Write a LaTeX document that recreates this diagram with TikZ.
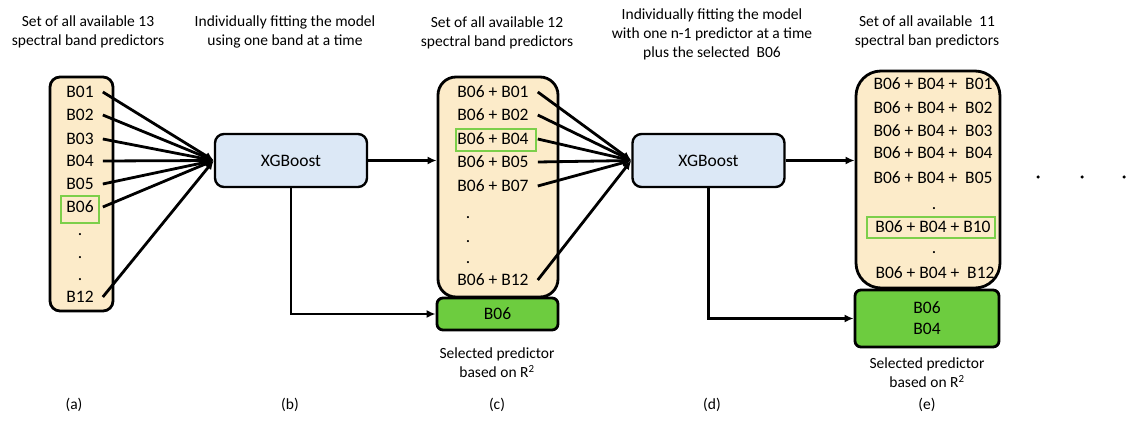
\documentclass[tikz,border=0pt]{standalone}
\usepackage{fontspec}
\setmainfont{Carlito}
\usetikzlibrary{arrows.meta}

\definecolor{setfill}{HTML}{FCEBC9}
\definecolor{xgbfill}{HTML}{DCE8F6}
\definecolor{selgreen}{HTML}{6DCC3F}
\definecolor{pickgreen}{HTML}{7CCF4A}

\begin{document}
\begin{tikzpicture}[x=1pt,y=-1pt]

\tikzset{line/.style={draw,line width=2.8pt}}
\tikzset{arrow/.style={line,-{Latex[length=9pt,width=8pt]}}}
\tikzset{bandset/.style={draw,line width=2.8pt,fill=setfill,rounded corners=#1}}
\tikzset{model/.style={draw,line width=2.4pt,fill=xgbfill,rounded corners=9pt,minimum width=152pt,minimum height=53pt,font=\fontsize{17.5}{20}\selectfont}}
\tikzset{selbox/.style={draw,line width=2.8pt,fill=selgreen,rounded corners=6pt,align=center,font=\fontsize{17.5}{21}\selectfont}}
\tikzset{band/.style={inner xsep=9pt,inner ysep=1pt,font=\fontsize{17.5}{20}\selectfont}}
\tikzset{pick/.style={draw=pickgreen,line width=1.6pt,inner sep=0pt}}
\tikzset{title/.style={align=center,font=\fontsize{15.5}{19}\selectfont}}
\tikzset{dot/.style={circle,fill,inner sep=0pt,minimum size=3.5pt}}

\useasboundingbox (0,0) rectangle (1128,422);

% (a) all 13 bands
\node[title] (ta) at (88,32) {Set of all available 13\\spectral band predictors};
\node[bandset=10pt,minimum width=63pt,minimum height=234pt] (seta) at (81.5,194) {};
\node[band] (a1) at (80,92) {B01};
\node[band] (a2) at (80,115) {B02};
\node[band] (a3) at (80,139) {B03};
\node[band] (a4) at (80,161) {B04};
\node[band] (a5) at (80,184) {B05};
\node[band] (a6) at (80,207) {B06};
\node[pick,minimum width=38pt,minimum height=27pt] (a6box) at (80,209.5) {};
\node[band] (ad1) at (80,235) {.};
\node[band] (ad2) at (80,258) {.};
\node[band] (ad3) at (80,280) {.};
\node[band] (a12) at (80,297) {B12};

% (b) first model
\node[title] (tb) at (285,32) {Individually fitting the model\\using one band at a time};
\node[model] (xgb1) at (291,160.5) {XGBoost};

\path[arrow] (a1.east) to (xgb1.west);
\path[arrow] (a2.east) to (xgb1.west);
\path[arrow] (a3.east) to (xgb1.west);
\path[arrow] (a4.east) to (xgb1.west);
\path[arrow] (a5.east) to (xgb1.west);
\path[arrow] (a6.east) to (xgb1.west);
\path[arrow] (a12.east) to (xgb1.west);

% (c) 12 pairs left
\node[title] (tc) at (497,33) {Set of all available 12\\spectral band predictors};
\node[bandset=18pt,minimum width=120pt,minimum height=220pt] (setc) at (498,187) {};
\node[band] (c1) at (493,92) {B06 + B01};
\node[band] (c2) at (493,115) {B06 + B02};
\node[band] (c3) at (493,139) {B06 + B04};
\node[pick,minimum width=80pt,minimum height=22pt] (c3box) at (496,140) {};
\node[band] (c4) at (493,162) {B06 + B05};
\node[band] (c5) at (493,186) {B06 + B07};
\node[band] (cd1) at (468,218) {.};
\node[band] (cd2) at (468,242) {.};
\node[band] (cd3) at (468,263) {.};
\node[band] (c12) at (493,280) {B06 + B12};
\node[selbox,minimum width=121pt,minimum height=32pt] (selc) at (497.5,314) {B06};
\node[title] (capc) at (497,363) {Selected predictor\\based on R\textsuperscript{2}};

\path[arrow] (xgb1.east) to (xgb1.east -| setc.west);
\draw[arrow] (xgb1.south) |- (selc.west);

% (d) second model
\node[title] (td) at (712,34) {Individually fitting the model\\with one n-1 predictor at a time\\plus the selected~~B06};
\node[model] (xgb2) at (708.5,160.5) {XGBoost};

\path[arrow] (c1.east) to (xgb2.west);
\path[arrow] (c2.east) to (xgb2.west);
\path[arrow] (c3.east) to (xgb2.west);
\path[arrow] (c4.east) to (xgb2.west);
\path[arrow] (c5.east) to (xgb2.west);
\path[arrow] (c12.east) to (xgb2.west);

% (e) 11 triples left
\node[title] (te) at (927,31.5) {Set of all available~~11\\spectral ban predictors};
\node[bandset=25pt,minimum width=144pt,minimum height=217pt] (sete) at (928,179.5) {};
\node[band] (e1) at (933,84) {B06 + B04 +~~B01};
\node[band] (e2) at (933,108) {B06 + B04 +~~B02};
\node[band] (e3) at (933,131) {B06 + B04 +~~B03};
\node[band] (e4) at (933,153) {B06 + B04 +~~B04};
\node[band] (e5) at (933,178) {B06 + B04 +~~B05};
\node[band] (ed1) at (934,209) {.};
\node[band] (e10) at (933,227) {B06 + B04 + B10};
\node[pick,minimum width=128pt,minimum height=21pt] (e10box) at (931,227.5) {};
\node[band] (ed2) at (934,253) {.};
\node[band] (e12) at (935,273) {B06 + B04 +~~B12};
\node[selbox,minimum width=144pt,minimum height=57pt] (sele) at (927,318.5) {B06\\B04};
\node[title] (cape) at (927,373) {Selected predictor\\based on R\textsuperscript{2}};

\path[arrow] (xgb2.east) to (xgb2.east -| sete.west);
\draw[arrow] (xgb2.south) |- (sele.west);

\node[dot] (m1) at (1038,177) {};
\node[dot] (m2) at (1082,177) {};
\node[dot] (m3) at (1124,177) {};

% step labels
\node[title] (la) at (74,405) {(a)};
\node[title] (lb) at (290,405) {(b)};
\node[title] (lc) at (497,405) {(c)};
\node[title] (ld) at (712,405) {(d)};
\node[title] (le) at (927,405) {(e)};

\end{tikzpicture}
\end{document}
